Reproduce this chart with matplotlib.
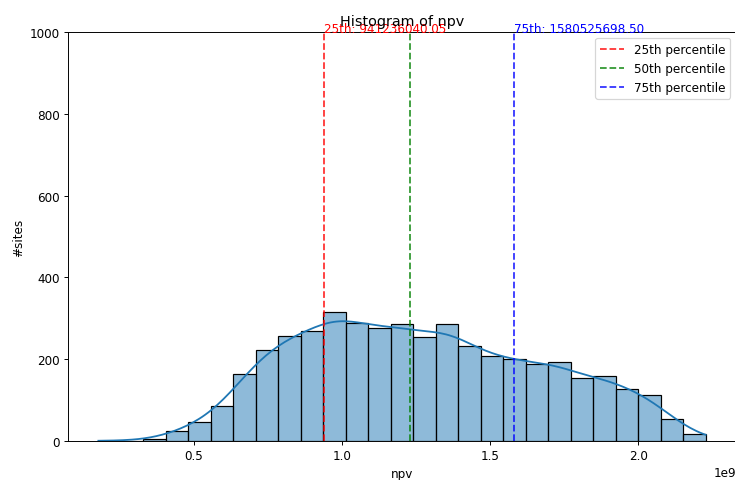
import matplotlib
matplotlib.use('Agg')
import numpy as np
import matplotlib.pyplot as plt

#--- binned npv counts ---#
npv_min = 0.178e9
npv_max = 2.228e9
counts = [1, 1, 5, 24, 46, 85, 164, 222, 257, 269, 315, 288, 276, 285,
          254, 285, 232, 208, 200, 188, 193, 153, 158, 128, 112, 55, 17]
p25 = 941236040.05
p50 = 1.229e9
p75 = 1580525698.50

edges = np.linspace(npv_min, npv_max, len(counts) + 1)
centers = 0.5 * (edges[:-1] + edges[1:])
width = edges[1] - edges[0]
counts = np.array(counts, dtype=float)

#--- gaussian kde from the binned values (scott rule) ---#
n = counts.sum()
mean = np.sum(counts * centers) / n
std = np.sqrt(np.sum(counts * (centers - mean) ** 2) / (n - 1))
bw = std * n ** (-1.0 / 5)
grid = np.linspace(npv_min, npv_max, 200)
dens = np.sum(counts[None, :] * np.exp(-0.5 * ((grid[:, None] - centers[None, :]) / bw) ** 2), axis=1)
dens = dens / (n * bw * np.sqrt(2 * np.pi))
kde_y = dens * n * width

dpi = 86.4
fig = plt.figure(figsize=(736 / dpi, 481 / dpi), dpi=dpi)
ax = fig.add_axes([68 / 736, 1 - 442 / 481, 1 - 68 / 736, (442 - 33) / 481])

ax.bar(centers, counts, width=width, color=(0.1216, 0.4667, 0.7059, 0.5),
       edgecolor='black', linewidth=1)
ax.plot(grid, kde_y, color='#1f77b4', linewidth=1.5)

ax.axvline(p25, color='r', linestyle='--', alpha=0.8, linewidth=1.5, label='25th percentile')
ax.axvline(p50, color='g', linestyle='--', alpha=0.8, linewidth=1.5, label='50th percentile')
ax.axvline(p75, color='b', linestyle='--', alpha=0.8, linewidth=1.5, label='75th percentile')
ax.text(p25, 1000, '25th: %.2f' % p25, color='r', fontsize=10)
ax.text(p75, 1000, '75th: %.2f' % p75, color='b', fontsize=10)

ax.set_ylim(0, 1000)
ax.set_xlim(npv_min - 0.05 * (npv_max - npv_min), npv_max + 0.05 * (npv_max - npv_min))
ax.set_title('Histogram of npv', fontsize=12)
ax.set_xlabel('npv', fontsize=10)
ax.set_ylabel('#sites', fontsize=10)
ax.tick_params(labelsize=10)
ax.legend(loc='upper right', fontsize=10)

fig.savefig('out.png', dpi=dpi)
